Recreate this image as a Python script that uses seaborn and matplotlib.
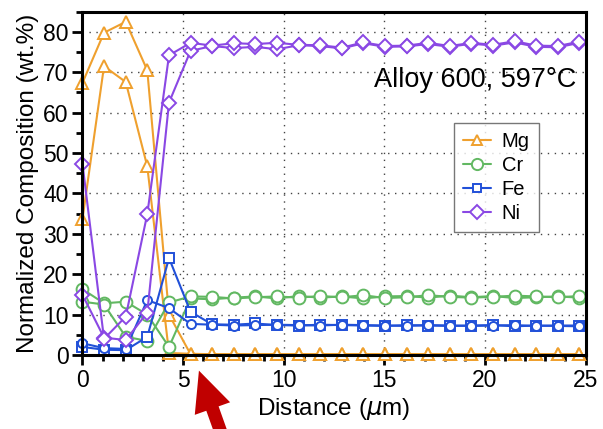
import numpy as np
import pandas as pd
import matplotlib
matplotlib.use('Agg')
import matplotlib.pyplot as plt
from matplotlib.lines import Line2D
from matplotlib.ticker import MultipleLocator
import seaborn as sns

# distance along the line scan (um), same positions for both scans
distance = [0.0, 1.07, 2.15, 3.22, 4.30, 5.37, 6.44, 7.52, 8.59, 9.67, 10.74, 11.81,
            12.89, 13.96, 15.04, 16.11, 17.18, 18.26, 19.33, 20.41, 21.48, 22.55, 23.63, 24.70]

elements = ['Mg', 'Cr', 'Fe', 'Ni']

mg_scan1 = [67.4, 79.8, 82.5, 70.5, 10.0, 0.2, 0.2, 0.2, 0.2, 0.2, 0.2, 0.2,
            0.2, 0.2, 0.2, 0.2, 0.2, 0.2, 0.2, 0.2, 0.2, 0.2, 0.2, 0.2]
mg_scan2 = [33.7, 71.5, 67.6, 46.7, 0.5, 0.3, 0.2, 0.2, 0.2, 0.2, 0.2, 0.2,
            0.2, 0.2, 0.2, 0.2, 0.2, 0.2, 0.2, 0.2, 0.2, 0.2, 0.2, 0.2]

cr_scan1 = [16.3, 12.8, 13.2, 10.0, 2.0, 14.0, 13.8, 14.2, 14.5, 14.0, 14.6, 14.2,
            14.5, 14.0, 14.5, 14.6, 14.2, 14.7, 14.3, 14.6, 14.1, 14.3, 14.5, 14.2]
cr_scan2 = [13.2, 12.5, 4.5, 3.5, 13.0, 14.5, 14.4, 14.0, 14.3, 14.5, 14.2, 14.6,
            14.3, 14.8, 14.1, 14.3, 14.8, 14.4, 14.2, 14.4, 14.7, 14.5, 14.3, 14.6]

fe_scan1 = [2.0, 1.3, 1.2, 4.5, 24.0, 10.7, 7.6, 7.5, 7.8, 7.4, 7.3, 7.5,
            7.4, 7.3, 7.2, 7.4, 7.3, 7.2, 7.3, 7.4, 7.1, 7.3, 7.2, 7.1]
fe_scan2 = [2.9, 1.7, 1.5, 13.6, 11.6, 7.7, 7.5, 7.3, 7.4, 7.5, 7.4, 7.3,
            7.5, 7.4, 7.3, 7.2, 7.4, 7.3, 7.2, 7.3, 7.4, 7.2, 7.3, 7.3]

ni_scan1 = [14.9, 4.3, 3.7, 10.5, 62.5, 75.3, 76.5, 76.0, 76.3, 75.7, 76.7, 76.5,
            75.9, 77.2, 76.3, 76.4, 77.0, 76.3, 77.1, 76.6, 77.4, 76.3, 76.2, 77.3]
ni_scan2 = [47.3, 4.0, 9.5, 34.9, 74.2, 77.3, 76.6, 77.2, 77.0, 77.3, 76.8, 76.7,
            76.1, 77.4, 76.5, 76.6, 77.3, 76.5, 77.3, 76.8, 77.7, 76.6, 76.5, 77.6]

colors = {'Mg': '#EFA02E', 'Cr': '#62B862', 'Fe': '#2150D8', 'Ni': '#8A48E4'}
markers = {'Mg': '^', 'Cr': 'o', 'Fe': 's', 'Ni': 'D'}
msize = {'Mg': 8, 'Cr': 8.5, 'Fe': 6.5, 'Ni': 7}

scans = {
    'Mg': [mg_scan1, mg_scan2],
    'Cr': [cr_scan1, cr_scan2],
    'Fe': [fe_scan1, fe_scan2],
    'Ni': [ni_scan1, ni_scan2],
}

sns.set_theme(style='ticks')
plt.rcParams['font.family'] = ['Liberation Sans', 'DejaVu Sans']
plt.rcParams['text.color'] = 'black'
plt.rcParams['axes.labelcolor'] = 'black'
plt.rcParams['xtick.color'] = 'black'
plt.rcParams['ytick.color'] = 'black'

fig = plt.figure(figsize=(6.03, 4.29), dpi=100)
ax = fig.add_axes([0.1368, 0.1725, 0.8342, 0.8002])

for el in elements:
    for i, vals in enumerate(scans[el]):
        df = pd.DataFrame({'Distance': distance, 'Composition': vals})
        mk = markers[el]
        if el == 'Fe' and i == 1:
            mk = 'o'
        sns.lineplot(data=df, x='Distance', y='Composition', ax=ax,
                     color=colors[el], marker=mk, markersize=msize[el],
                     markerfacecolor='white', markeredgecolor=colors[el],
                     markeredgewidth=1.4, linewidth=1.5, clip_on=False,
                     legend=False, zorder=2)

ax.set_xlim(0, 25)
ax.set_ylim(0, 85)
ax.xaxis.set_major_locator(MultipleLocator(5))
ax.xaxis.set_minor_locator(MultipleLocator(1))
ax.yaxis.set_major_locator(MultipleLocator(10))
ax.yaxis.set_minor_locator(MultipleLocator(5))
ax.grid(True, which='major', linestyle=(0, (1, 4)), color='#444444', linewidth=1.0)

for s in ax.spines.values():
    s.set_visible(True)
    s.set_linewidth(2.2)
    s.set_color('black')
    s.set_zorder(5)

ax.tick_params(which='major', direction='out', length=7, width=2, color='black',
               labelcolor='black', labelsize=16.5, pad=3)
ax.tick_params(which='minor', direction='out', length=4, width=2, color='black')

ax.set_xlabel('Distance ($\\mu$m)', fontsize=17.5, labelpad=3, color='black')
ax.set_ylabel('Normalized Composition (wt.%)', fontsize=17.5, labelpad=3, color='black')

ax.text(0.982, 0.80, 'Alloy 600, 597°C', transform=ax.transAxes,
        ha='right', va='center', fontsize=19.5, color='black')

handles = [Line2D([0], [0], color=colors[el], marker=markers[el], markersize=msize[el] * 0.95,
                  markerfacecolor='white', markeredgecolor=colors[el], markeredgewidth=1.4,
                  linewidth=1.5) for el in elements]
leg = ax.legend(handles, elements, loc='upper left', bbox_to_anchor=(0.739, 0.676),
                borderaxespad=0, fontsize=14.5, frameon=True, fancybox=False,
                handlelength=1.4, handletextpad=0.5, labelspacing=0.25,
                borderpad=0.45, labelcolor='black')
leg.get_frame().set_edgecolor('#555555')
leg.get_frame().set_linewidth(1.0)
leg.set_zorder(6)

# red arrow pointing at the interface below the axis
ax.annotate('', xy=(198, 61), xycoords='figure pixels',
            xytext=(224, -12), textcoords='figure pixels',
            arrowprops=dict(arrowstyle='simple,head_length=1.45,head_width=1.35,tail_width=0.47',
                            mutation_scale=20, color='#C00000', linewidth=0),
            annotation_clip=False)

fig.savefig('out.png', dpi=100)
